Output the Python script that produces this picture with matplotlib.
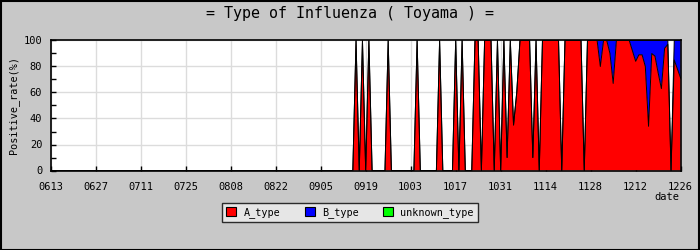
import matplotlib
matplotlib.use("Agg")
import matplotlib.pyplot as plt
import numpy as np
from matplotlib.patches import Rectangle

# ---- data ----
tick_labels = ["0613", "0627", "0711", "0725", "0808", "0822", "0905",
               "0919", "1003", "1017", "1031", "1114", "1128", "1212", "1226"]
n_days = 197  # 0613 .. 1226, one value per day

# days (counted from 0613) with a non-zero A_type positive rate
a_days = [95, 97, 99, 105, 114, 121, 126, 128, 132, 133, 135, 136, 137, 139,
          141, 142, 143, 144, 145, 146, 147, 148, 149, 150, 151,
          153, 154, 155, 156, 157, 158,
          160, 161, 162, 163, 164, 165,
          167, 168, 169, 170, 171, 172, 173, 174, 175, 176, 177, 178, 179, 180,
          181, 182, 183, 184, 185, 186, 187, 188, 189, 190, 191, 192,
          194, 195, 196]
a_vals = [100, 100, 100, 100, 100, 100, 100, 100, 100, 100, 100, 100, 100, 100,
          100, 10, 100, 35, 60, 100, 100, 100, 100, 10, 100,
          100, 100, 100, 100, 100, 100,
          100, 100, 100, 100, 100, 100,
          100, 100, 100, 100, 80, 100, 100, 90, 67, 100, 100, 100, 100, 100,
          92, 84, 89, 89, 80, 34, 90, 88, 75, 63, 94, 97,
          85, 78, 71]
# days with a non-zero B_type positive rate
b_days = [171, 174, 175, 181, 182, 183, 184, 185, 186, 187, 188, 189, 190,
          191, 192, 194, 195, 196]
b_vals = [20, 10, 33, 8, 16, 11, 11, 20, 66, 10, 12, 25, 37,
          6, 3, 15, 22, 29]

# ---- build series ----
days = np.arange(n_days)
A = np.zeros(n_days)
B = np.zeros(n_days)
A[a_days] = a_vals
B[b_days] = b_vals

mono = "DejaVu Sans Mono"
fig = plt.figure(figsize=(7, 2.5), dpi=100, facecolor="#c8c8c8")
ax = fig.add_axes([0.0724, 0.318, 0.900, 0.520])
ax.set_facecolor("white")

ax.fill_between(days, 0, A, facecolor="#ff0000", edgecolor="none", zorder=2)
ax.fill_between(days, A, A + B, facecolor="#0000ff", edgecolor="none", zorder=2)
ax.plot(days, A, color="black", lw=0.7, zorder=3)
ax.plot(days, A + B, color="black", lw=0.7, zorder=3)

ax.set_xlim(0, n_days - 1)
ax.set_ylim(0, 100)
ax.set_xticks(np.arange(0, n_days, 14))
ax.set_xticklabels(tick_labels, family=mono, fontsize=7.5)
ax.set_yticks(np.arange(0, 101, 20))
ax.set_yticks(np.arange(10, 100, 20), minor=True)
ax.set_yticklabels([str(v) for v in range(0, 101, 20)], family=mono, fontsize=7.5)
ax.tick_params(axis="both", which="both", direction="in", length=3.5, width=1,
               color="black")
ax.tick_params(axis="x", which="major", pad=8)
ax.tick_params(axis="y", which="major", pad=6)
ax.grid(True, which="major", color="#dcdcdc", lw=1, zorder=0)
ax.set_axisbelow(True)
for s in ax.spines.values():
    s.set_linewidth(1.2)
    s.set_color("black")
    s.set_zorder(5)

ax.set_ylabel("Positive_rate(%)", family=mono, fontsize=7.3, labelpad=3)
fig.text(0.953, 0.214, "date", family=mono, fontsize=7.5, ha="center", va="center")
fig.text(0.5, 0.945, "= Type of Influenza ( Toyama ) =", family=mono,
         fontsize=10.8, ha="center", va="center")

# legend
handles = [Rectangle((0, 0), 1, 1, facecolor=c, edgecolor="black", lw=0.8)
           for c in ["#ff0000", "#0000ff", "#00ff00"]]
leg = fig.legend(handles, ["A_type", "B_type", "unknown_type"], loc="center",
                 bbox_to_anchor=(0.5, 0.149), ncol=3, frameon=True, fancybox=False,
                 shadow=False, prop={"family": mono, "size": 7.3},
                 handlelength=1.0, handleheight=1.0, handletextpad=0.7,
                 columnspacing=2.4, borderpad=0.4)
leg.get_frame().set_facecolor("#eeeeee")
leg.get_frame().set_edgecolor("black")
leg.get_frame().set_linewidth(1.0)

# outer border
fig.patches.append(Rectangle((0.001, 0.002), 0.998, 0.996, transform=fig.transFigure,
                             fill=False, edgecolor="black", lw=1.5))

fig.savefig("out.png", dpi=100, facecolor=fig.get_facecolor())
